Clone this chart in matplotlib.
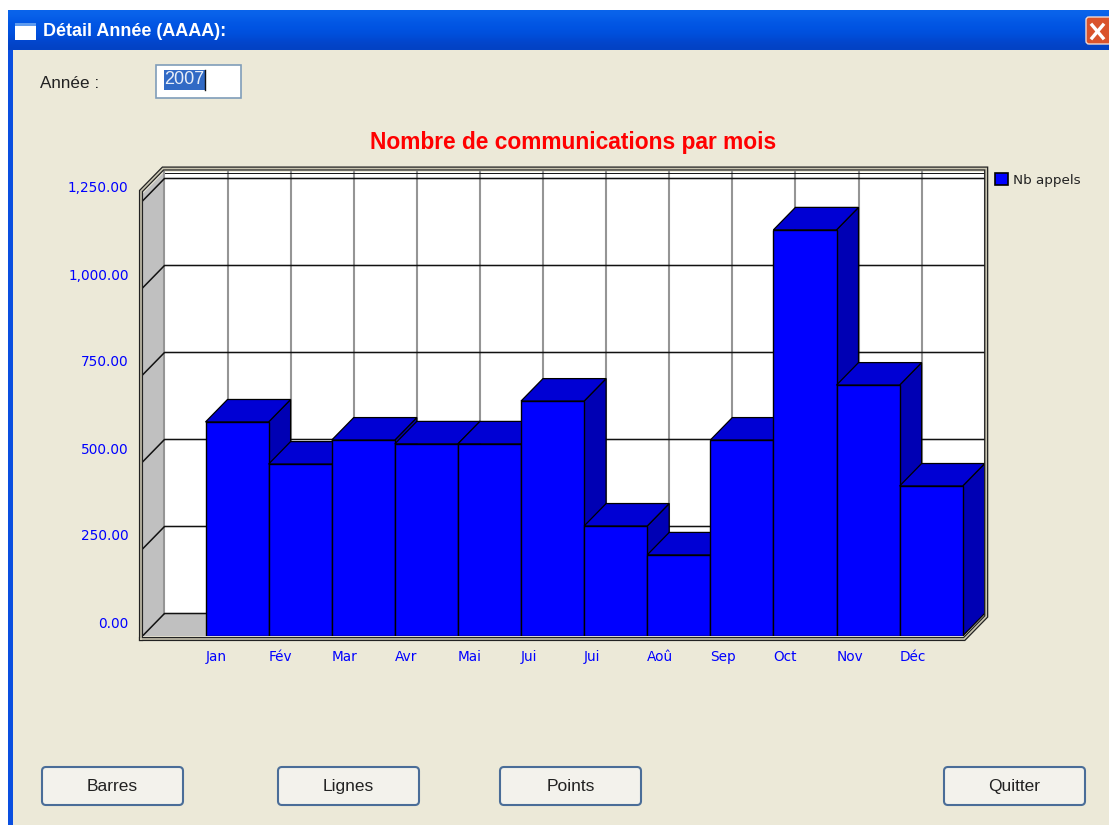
#!/usr/bin/env python

import numpy as np
import matplotlib
matplotlib.use("Agg")
import matplotlib.pyplot as plt
from matplotlib.patches import FancyBboxPatch, Patch, Polygon, Rectangle
from matplotlib.transforms import ScaledTranslation

months = ["Jan", "Fév", "Mar", "Avr", "Mai", "Jui", "Jui", "Aoû", "Sep", "Oct", "Nov", "Déc"]
appels = [615, 494, 563, 552, 552, 675, 316, 233, 563, 1167, 721, 431]
yticks = [0, 250, 500, 750, 1000, 1250]
buttons = ["Barres", "Lignes", "Points", "Quitter"]

BG = "#ECE9D8"
BLUE = "#0000FF"
DARK = "#0000B4"
TOP_C = "#0000D4"
GREY = "#C0C0C0"

W, H = 1109, 825
fig = plt.figure(figsize=(W / 100, H / 100), dpi=100, facecolor="white")
plt.rcParams["font.family"] = ["Liberation Sans", "DejaVu Sans"]

# window around the chart, in screen pixels
ui = fig.add_axes([0, 0, 1, 1])
ui.set_axis_off()
ui.add_patch(Rectangle((8, 10), W, H, fc=BG, ec="none"))
ui.add_patch(Rectangle((8, 10), 5, H, fc="#0A4FE0", ec="none"))
grad = np.array([[[10, 100, 235]], [[4, 90, 230]], [[0, 84, 227]], [[0, 80, 222]], [[2, 72, 208]], [[3, 66, 196]]], dtype=np.uint8)
ui.imshow(grad, extent=(8, W, 50, 10), aspect="auto", interpolation="bicubic", zorder=1)
ui.set_xlim(0, W)
ui.set_ylim(H, 0)

ui.add_patch(Rectangle((15, 23), 21, 17, fc="white", ec="none", zorder=2))
ui.add_patch(Rectangle((15, 23), 21, 3, fc="#5E9BEF", ec="none", zorder=3))
ui.text(43, 32, "Détail Année (AAAA):", color="white", fontsize=13, fontweight="bold", va="center", zorder=3)
ui.add_patch(FancyBboxPatch((1086, 17), 30, 27, boxstyle="round,pad=0,rounding_size=3", fc="#D9532C", ec="#F0D8D0", lw=1, zorder=3))
ui.plot([1092, 1103], [25, 38], color="white", lw=2.4, zorder=4)
ui.plot([1103, 1092], [25, 38], color="white", lw=2.4, zorder=4)

ui.text(40, 83, "Année :", color="#222222", fontsize=12.3, va="center")
ui.add_patch(Rectangle((156, 65), 85, 33, fc="white", ec="#7F9DB9", lw=1.2))
ui.add_patch(Rectangle((164, 70), 41, 20, fc="#316AC5", ec="none"))
ui.text(164, 80, "2007", color="#E8EEF8", fontsize=13, va="center")
ui.plot([205, 205], [70, 90], color="#111111", lw=1)

for name, x in zip(buttons, [42, 278, 500, 944]):
    ui.add_patch(FancyBboxPatch((x, 767), 141, 38, boxstyle="round,pad=0,rounding_size=4", fc="#F3F2EC", ec="#4A6D98", lw=1.5))
    ui.text(x + 70.5, 791, name, color="#222222", fontsize=12.5, ha="center", va="baseline")

ui.text(573, 142, "Nombre de communications par mois", color="#FF0000", fontsize=16.35,
        fontweight="bold", ha="center", va="center")

# chart scale: one month = 63.1 px, 250 calls = 87 px
XPX = 63.1
YPX = 0.348
X0 = -63 / XPX
DX = 22 / XPX
DY = 22.5 / YPX
TOP = 1270
XR = len(months)

L, R, B, T = 142.5, 991.5, 636, 165
ax = fig.add_axes([L / W, 1 - B / H, (R - L) / W, (B - T) / H])
ax.set_xlim(X0, X0 + (R - L) / XPX)
ax.set_ylim(0, (B - T) / YPX)
ax.patch.set_visible(False)
for s in ax.spines.values():
    s.set_visible(False)

# walls and floor
ax.add_patch(Rectangle((X0 + DX, DY), XR - X0, TOP, fc="white", ec="none", zorder=1))
ax.add_patch(Polygon([(X0, 0), (X0 + DX, DY), (X0 + DX, TOP + DY), (X0, TOP)], fc=GREY, ec="none", zorder=1))
ax.add_patch(Polygon([(X0, 0), (XR, 0), (XR + DX, DY), (X0 + DX, DY)], fc=GREY, ec="none", zorder=1))

# grid
for i in range(-1, XR + 1):
    ax.plot([i + DX, i + DX], [DY, TOP + DY], color="#959595", lw=1.5, zorder=1.5, clip_on=False)
for v in yticks:
    ax.plot([X0, X0 + DX, XR + DX], [v, v + DY, v + DY], color="#111111", lw=1.1, zorder=2)
ax.plot([X0 + DX, XR + DX], [TOP - 5 + DY, TOP - 5 + DY], color="#111111", lw=0.7, zorder=2)

# bars, left to right so each one hides the side of the previous
for i, v in enumerate(appels):
    z = 3 + i * 0.1
    ax.add_patch(Polygon([(i + 1, 0), (i + 1 + DX, DY), (i + 1 + DX, v + DY), (i + 1, v)],
                         fc=DARK, ec="black", lw=0.9, zorder=z))
    ax.add_patch(Polygon([(i, v), (i + DX, v + DY), (i + 1 + DX, v + DY), (i + 1, v)],
                         fc=TOP_C, ec="black", lw=0.9, zorder=z))
    ax.add_patch(Rectangle((i, 0), 1, v, fc=BLUE, ec="black", lw=1.0, zorder=z + 0.05))

# double frame around the box
px, py = 1.5 / XPX, 3 / YPX
frame = [(X0 - px, -py), (XR + px, -py), (XR + DX + px, DY - py), (XR + DX + px, TOP + DY + py),
         (X0 + DX - px, TOP + DY + py), (X0 - px, TOP + py), (X0 - px, -py)]
fx, fy = zip(*frame)
ax.plot(fx, fy, color="#222222", lw=3, zorder=5, solid_joinstyle="miter", clip_on=False)
ax.plot(fx, fy, color="#C8C4B0", lw=1.2, zorder=5.1, solid_joinstyle="miter", clip_on=False)

# tick labels sit off the front plane
ax.set_xticks(np.arange(XR))
ax.set_xticklabels(months, ha="left")
ax.set_yticks(yticks)
ax.set_yticklabels(["{:,.2f}".format(v) for v in yticks])
ax.tick_params(length=0, colors=BLUE, labelsize=9.8, pad=10)
ax.tick_params(axis="x", pad=10)
up = ScaledTranslation(0, 14 / 100, fig.dpi_scale_trans)
for lab in ax.get_yticklabels():
    lab.set_transform(lab.get_transform() + up)
    lab.set_fontfamily("DejaVu Sans")
for lab in ax.get_xticklabels():
    lab.set_fontfamily("DejaVu Sans")

leg = ax.legend(handles=[Patch(fc=BLUE, ec="black", lw=1.2, label="Nb appels")], loc="center left",
                bbox_to_anchor=(995 / W, 1 - 180 / H), bbox_transform=fig.transFigure, frameon=False,
                handlelength=1.0, handleheight=1.0, handletextpad=0.3, borderpad=0, borderaxespad=0,
                prop={"family": "DejaVu Sans", "size": 9.7})
leg.get_texts()[0].set_color("#222222")

fig.savefig("out.png", dpi=100, facecolor="white")
